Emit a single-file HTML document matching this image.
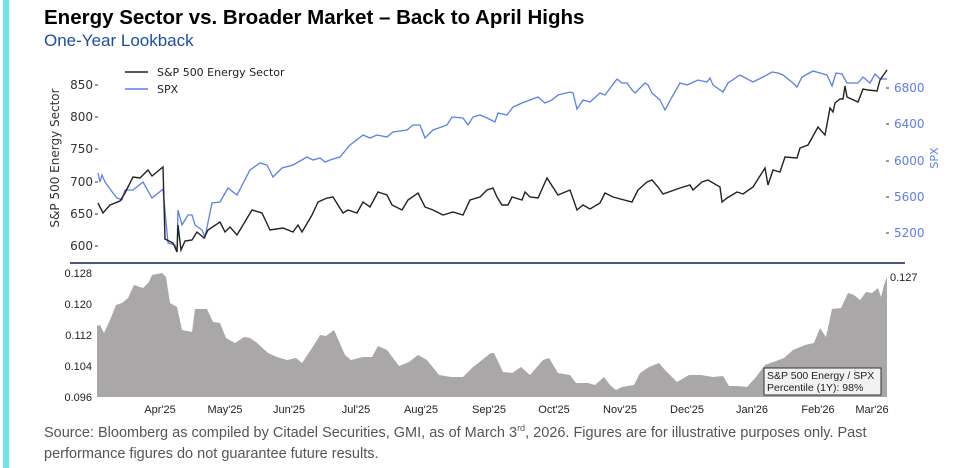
<!DOCTYPE html>
<html><head><meta charset="utf-8"><style>
body{margin:0;width:956px;height:468px;background:#fff;overflow:hidden;position:relative;font-family:"Liberation Sans",sans-serif}
.bar{position:absolute;left:3px;top:0;width:6px;height:468px;background:#6fe6e6}
.t{position:absolute;left:44px;top:6px;font-size:20.5px;font-weight:bold;color:#000}
.s{position:absolute;left:44px;top:31px;font-size:17px;color:#1f4ea0}
.f{position:absolute;left:44px;top:423px;font-size:14.5px;color:#555;line-height:21px;width:910px;white-space:nowrap}
svg{position:absolute;left:0;top:0}
</style></head><body>
<div class="bar"></div>
<div class="t">Energy Sector vs. Broader Market – Back to April Highs</div>
<div class="s">One-Year Lookback</div>
<svg width="956" height="468" font-family="DejaVu Sans, sans-serif">
<g font-size="12" fill="#333" text-anchor="end">
<text x="93" y="89">850</text><line x1="95" y1="85" x2="98" y2="85" stroke="#333"/>
<text x="93" y="121">800</text><line x1="95" y1="117" x2="98" y2="117" stroke="#333"/>
<text x="93" y="153">750</text><line x1="95" y1="149" x2="98" y2="149" stroke="#333"/>
<text x="93" y="186">700</text><line x1="95" y1="182" x2="98" y2="182" stroke="#333"/>
<text x="93" y="218">650</text><line x1="95" y1="214" x2="98" y2="214" stroke="#333"/>
<text x="93" y="250">600</text><line x1="95" y1="246" x2="98" y2="246" stroke="#333"/>
</g>
<text transform="translate(59,158) rotate(-90)" font-size="12" fill="#333" text-anchor="middle">S&amp;P 500 Energy Sector</text>
<g font-size="12" fill="#5b7fe8">
<line x1="886" y1="88" x2="889" y2="88" stroke="#333"/><text x="894" y="92">6800</text>
<line x1="886" y1="124" x2="889" y2="124" stroke="#333"/><text x="894" y="128">6400</text>
<line x1="886" y1="161" x2="889" y2="161" stroke="#333"/><text x="894" y="165">6000</text>
<line x1="886" y1="197" x2="889" y2="197" stroke="#333"/><text x="894" y="201">5600</text>
<line x1="886" y1="233" x2="889" y2="233" stroke="#333"/><text x="894" y="237">5200</text>
<text transform="translate(938,158) rotate(-90)" font-size="11" text-anchor="middle">SPX</text>
</g>
<line x1="125" y1="72" x2="148" y2="72" stroke="#222" stroke-width="1.5"/><text x="157" y="76" font-size="11" fill="#222">S&amp;P 500 Energy Sector</text>
<line x1="125" y1="89" x2="148" y2="89" stroke="#5b7fe8" stroke-width="1.5"/><text x="157" y="93" font-size="11" fill="#222">SPX</text>
<polyline fill="none" stroke="#5b7fe8" stroke-width="1.3" points="98,173 100,182 102,175 105,182 113,193 117,198 122,200 125,190 133,190 143,182 152,198 162,190 163,189 168,243 175,245 177,252 178,210 182,225 188,215 192,215 195,225 202,230 205,237 212,203 220,202 228,188 237,195 250,170 260,163 267,165 273,177 282,168 293,165 307,157 313,160 320,158 325,162 330,160 340,157 350,145 363,135 370,138 377,135 387,137 393,132 407,130 413,125 420,125 425,138 433,130 447,125 452,117 463,118 468,125 473,117 480,115 487,118 495,122 498,113 507,115 513,107 522,103 530,100 538,97 545,103 552,100 558,95 570,92 573,93 577,109 583,100 590,102 600,93 605,95 617,79 622,83 627,83 632,90 635,93 645,83 648,85 652,93 660,100 665,110 672,97 680,83 687,85 698,80 707,82 710,78 713,85 723,92 728,83 740,75 753,82 765,76 772,72 778,73 783,75 793,83 797,87 802,77 813,71 827,75 832,86 836,73 842,74 847,83 858,83 863,77 870,83 875,74 880,79 887,79"/>
<polyline fill="none" stroke="#222" stroke-width="1.4" points="98,203 103,213 110,205 120,201 125,193 133,177 140,178 148,170 152,176 163,167 165,239 173,243 177,252 178,225 181,250 185,241 192,240 197,232 204,238 208,230 220,222 225,232 230,227 237,235 252,210 262,213 270,230 283,228 293,232 298,225 302,232 312,215 318,202 327,198 333,197 343,213 348,210 357,213 363,202 370,207 378,192 387,195 392,205 402,210 408,200 418,193 425,207 433,210 443,215 453,212 463,215 470,200 480,197 487,190 493,188 497,197 502,205 508,205 512,197 522,200 525,192 530,197 538,198 547,178 558,195 570,190 577,210 583,205 590,209 600,203 605,193 613,197 632,202 638,190 647,182 652,180 658,187 663,194 680,188 690,185 693,190 702,182 708,180 720,187 722,202 727,198 737,192 743,194 753,187 765,168 768,185 773,170 780,172 785,157 797,158 800,148 808,145 818,127 825,135 830,108 833,112 835,103 840,99 843,99 845,86 847,97 858,102 863,89 868,90 877,91 880,80 887,70"/>
<line x1="70" y1="263" x2="905" y2="263" stroke="#4a5580" stroke-width="2"/>
<polygon fill="#a9a7a8" points="97,397 97,326 100,325 104,333 110,320 116,305 122,303 128,298 134,285 143,288 149,282 152,275 162,273 166,277 170,303 177,307 182,330 192,332 195,309 207,309 213,322 220,323 226,338 235,343 244,337 250,338 256,342 268,353 277,357 287,360 296,358 302,363 314,345 320,335 326,336 334,330 345,355 351,360 363,357 372,357 378,346 387,350 399,366 409,362 418,355 427,360 439,375 451,377 463,377 473,367 482,360 491,353 494,353 503,372 512,373 521,367 530,375 543,360 549,358 558,373 570,375 576,383 588,383 595,385 604,377 610,385 616,390 622,387 634,385 640,373 649,367 659,363 665,370 677,382 689,375 701,375 713,377 723,376 729,386 738,386 747,387 756,377 765,365 784,358 793,350 805,345 814,343 820,328 826,337 832,309 841,308 848,293 854,295 860,300 866,292 872,293 878,288 881,297 884,285 887,277 887,397"/>
<g font-size="11" fill="#222" font-family="Liberation Sans Narrow, Liberation Sans, sans-serif">
<text x="92" y="277" text-anchor="end">0.128</text>
<text x="92" y="308" text-anchor="end">0.120</text>
<text x="92" y="339" text-anchor="end">0.112</text>
<text x="92" y="370" text-anchor="end">0.104</text>
<text x="92" y="401" text-anchor="end">0.096</text>
<text x="890" y="281">0.127</text>
<g text-anchor="middle">
<text x="160" y="413">Apr'25</text><text x="225" y="413">May'25</text><text x="289" y="413">Jun'25</text><text x="356" y="413">Jul'25</text><text x="421" y="413">Aug'25</text><text x="489" y="413">Sep'25</text><text x="554" y="413">Oct'25</text><text x="620" y="413">Nov'25</text><text x="687" y="413">Dec'25</text><text x="752" y="413">Jan'26</text><text x="818" y="413">Feb'26</text><text x="872" y="413">Mar'26</text>
</g>
<rect x="764" y="368" width="117" height="27" fill="#f2f2f2" stroke="#333" stroke-width="1"/>
<text x="767" y="379" font-size="10.5">S&amp;P 500 Energy / SPX</text>
<text x="767" y="391" font-size="10.5">Percentile (1Y): 98%</text>
</g>
</svg>
<div class="f">Source: Bloomberg as compiled by Citadel Securities, GMI, as of March 3<sup style="font-size:9px;line-height:0">rd</sup>, 2026. Figures are for illustrative purposes only. Past<br>performance figures do not guarantee future results.</div>
</body></html>
